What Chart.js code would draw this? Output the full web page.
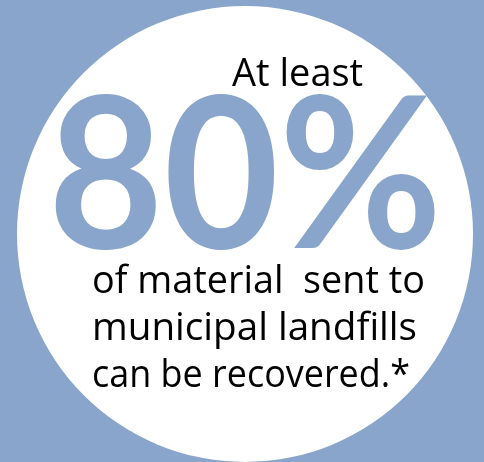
<!DOCTYPE html>
<html>
<head>
<meta charset="utf-8">
<script src="https://cdn.jsdelivr.net/npm/chart.js@4.4.1/dist/chart.umd.min.js"></script>
<style>
  html, body { margin: 0; padding: 0; background: #89a5cc; }
  #wrap { width: 484px; height: 462px; position: relative; }
</style>
</head>
<body>
<div id="wrap"><canvas id="statChart"></canvas></div>
<script>
const labels = ['Recoverable'];
const values = [80];
const circleShare = [100];
const leadText = ['At least'];
const bodyLines = ['of material  sent to', 'municipal landfills', 'can be recovered.*'];

const blue = '#89a5cc';

const statTextPlugin = {
    id: 'statText',
    afterDatasetsDraw: chart => {
        const { ctx } = chart;
        const arc = chart.getDatasetMeta(0).data[0];
        const cx = arc.x, cy = arc.y;

        ctx.save();
        ctx.textBaseline = 'alphabetic';
        ctx.textAlign = 'left';

        // small lead text
        ctx.fillStyle = '#000';
        ctx.font = '38px "Open Sans", "Noto Sans", sans-serif';
        ctx.fillText(leadText[0], cx - 13, cy - 148, 134);

        // big number
        ctx.fillStyle = blue;
        ctx.font = 'bold 210px Lato, "Open Sans", sans-serif';
        ctx.fillText(values[0] + '%', cx - 197, cy + 14, 394);

        // body lines
        ctx.fillStyle = '#000';
        ctx.font = '39px "Open Sans", "Noto Sans", sans-serif';
        const widths = [333, 325, 318];
        bodyLines.forEach((line, i) => {
            ctx.fillText(line, cx - 153, cy + 59 + i * 47, widths[i]);
        });
        ctx.restore();
    }
};

new Chart(document.getElementById('statChart'), {
    type: 'pie',
    data: {
        labels: labels,
        datasets: [{
            data: circleShare,
            backgroundColor: ['#ffffff'],
            borderWidth: 0,
            hoverOffset: 0
        }]
    },
    options: {
        responsive: true,
        maintainAspectRatio: false,
        animation: false,
        layout: { padding: { left: 17, right: 11, top: 6, bottom: 0 } },
        plugins: {
            legend: { display: false },
            tooltip: { enabled: false }
        }
    },
    plugins: [statTextPlugin]
});
</script>
</body>
</html>
